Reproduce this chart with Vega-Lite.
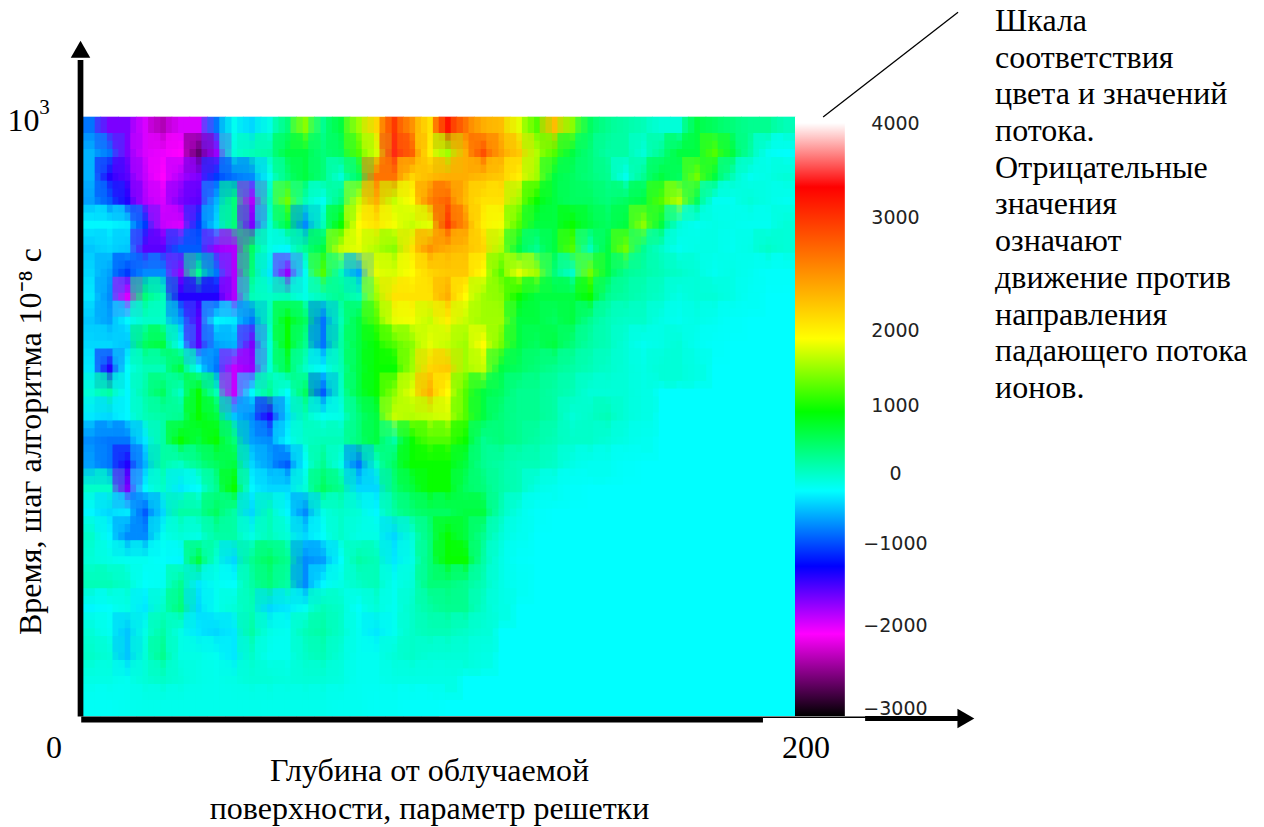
{"$schema":"https://vega.github.io/schema/vega-lite/v6.json","width":712,"height":599,"autosize":"none","padding":{"left":83,"top":117,"right":469,"bottom":111},"background":"#ffffff","view":{"fill":"#00ffff","stroke":null},"resolve":{"scale":{"y":"independent"},"axis":{"x":"independent","y":"independent"}},
"datasets":{"cells":[
{"x":2.5,"y":980,"v":-1000},{"x":7.5,"y":980,"v":-1500},{"x":12.5,"y":980,"v":-1500},{"x":17.5,"y":980,"v":-1900},{"x":22.5,"y":980,"v":-2500},{"x":27.5,"y":980,"v":-1900},{"x":32.5,"y":980,"v":-1900},{"x":37.5,"y":980,"v":-1000},{"x":42.5,"y":980,"v":-100},{"x":47.5,"y":980,"v":-500},{"x":52.5,"y":980,"v":0},{"x":57.5,"y":980,"v":600},{"x":62.5,"y":980,"v":1200},{"x":67.5,"y":980,"v":500},{"x":72.5,"y":980,"v":800},{"x":77.5,"y":980,"v":1300},{"x":82.5,"y":980,"v":2200},{"x":87.5,"y":980,"v":3200},{"x":92.5,"y":980,"v":2700},{"x":97.5,"y":980,"v":2100},{"x":102.5,"y":980,"v":3300},{"x":107.5,"y":980,"v":2900},{"x":112.5,"y":980,"v":2500},{"x":117.5,"y":980,"v":2400},{"x":122.5,"y":980,"v":1700},{"x":127.5,"y":980,"v":1000},{"x":132.5,"y":980,"v":2400},{"x":137.5,"y":980,"v":1200},{"x":142.5,"y":980,"v":700},{"x":147.5,"y":980,"v":500},{"x":152.5,"y":980,"v":400},{"x":157.5,"y":980,"v":300},{"x":162.5,"y":980,"v":100},{"x":167.5,"y":980,"v":100},{"x":172.5,"y":980,"v":800},{"x":177.5,"y":980,"v":700},{"x":182.5,"y":980,"v":600},{"x":187.5,"y":980,"v":500},{"x":192.5,"y":980,"v":500},{"x":197.5,"y":980,"v":300},
{"x":2.5,"y":940,"v":-700},{"x":7.5,"y":940,"v":-1000},{"x":12.5,"y":940,"v":-1500},{"x":17.5,"y":940,"v":-1900},{"x":22.5,"y":940,"v":-2000},{"x":27.5,"y":940,"v":-2100},{"x":32.5,"y":940,"v":-2900},{"x":37.5,"y":940,"v":-1600},{"x":42.5,"y":940,"v":100},{"x":47.5,"y":940,"v":300},{"x":52.5,"y":940,"v":400},{"x":57.5,"y":940,"v":800},{"x":62.5,"y":940,"v":800},{"x":67.5,"y":940,"v":600},{"x":72.5,"y":940,"v":700},{"x":77.5,"y":940,"v":1000},{"x":82.5,"y":940,"v":1600},{"x":87.5,"y":940,"v":3400},{"x":92.5,"y":940,"v":3000},{"x":97.5,"y":940,"v":2000},{"x":102.5,"y":940,"v":1300},{"x":107.5,"y":940,"v":2500},{"x":112.5,"y":940,"v":3100},{"x":117.5,"y":940,"v":2600},{"x":122.5,"y":940,"v":2300},{"x":127.5,"y":940,"v":1400},{"x":132.5,"y":940,"v":1000},{"x":137.5,"y":940,"v":800},{"x":142.5,"y":940,"v":600},{"x":147.5,"y":940,"v":400},{"x":152.5,"y":940,"v":400},{"x":157.5,"y":940,"v":100},{"x":162.5,"y":940,"v":500},{"x":167.5,"y":940,"v":800},{"x":172.5,"y":940,"v":800},{"x":177.5,"y":940,"v":1000},{"x":182.5,"y":940,"v":800},{"x":187.5,"y":940,"v":400},{"x":192.5,"y":940,"v":-100},{"x":197.5,"y":940,"v":-200},
{"x":2.5,"y":900,"v":-700},{"x":7.5,"y":900,"v":-1300},{"x":12.5,"y":900,"v":-1400},{"x":17.5,"y":900,"v":-1800},{"x":22.5,"y":900,"v":-2100},{"x":27.5,"y":900,"v":-1700},{"x":32.5,"y":900,"v":-1500},{"x":37.5,"y":900,"v":-1200},{"x":42.5,"y":900,"v":-1000},{"x":47.5,"y":900,"v":-900},{"x":52.5,"y":900,"v":-100},{"x":57.5,"y":900,"v":600},{"x":62.5,"y":900,"v":800},{"x":67.5,"y":900,"v":600},{"x":72.5,"y":900,"v":100},{"x":77.5,"y":900,"v":700},{"x":82.5,"y":900,"v":2900},{"x":87.5,"y":900,"v":2900},{"x":92.5,"y":900,"v":2200},{"x":97.5,"y":900,"v":2400},{"x":102.5,"y":900,"v":2500},{"x":107.5,"y":900,"v":2500},{"x":112.5,"y":900,"v":2400},{"x":117.5,"y":900,"v":2300},{"x":122.5,"y":900,"v":2000},{"x":127.5,"y":900,"v":1300},{"x":132.5,"y":900,"v":800},{"x":137.5,"y":900,"v":700},{"x":142.5,"y":900,"v":600},{"x":147.5,"y":900,"v":500},{"x":152.5,"y":900,"v":-50},{"x":157.5,"y":900,"v":500},{"x":162.5,"y":900,"v":800},{"x":167.5,"y":900,"v":700},{"x":172.5,"y":900,"v":1100},{"x":177.5,"y":900,"v":800},{"x":182.5,"y":900,"v":300},{"x":187.5,"y":900,"v":-100},{"x":192.5,"y":900,"v":0},{"x":197.5,"y":900,"v":100},
{"x":2.5,"y":860,"v":-800},{"x":7.5,"y":860,"v":-1100},{"x":12.5,"y":860,"v":-1300},{"x":17.5,"y":860,"v":-1700},{"x":22.5,"y":860,"v":-1900},{"x":27.5,"y":860,"v":-1500},{"x":32.5,"y":860,"v":-1400},{"x":37.5,"y":860,"v":-700},{"x":42.5,"y":860,"v":600},{"x":47.5,"y":860,"v":-1700},{"x":52.5,"y":860,"v":300},{"x":57.5,"y":860,"v":1100},{"x":62.5,"y":860,"v":300},{"x":67.5,"y":860,"v":-100},{"x":72.5,"y":860,"v":600},{"x":77.5,"y":860,"v":1500},{"x":82.5,"y":860,"v":2500},{"x":87.5,"y":860,"v":1500},{"x":92.5,"y":860,"v":1900},{"x":97.5,"y":860,"v":2800},{"x":102.5,"y":860,"v":3000},{"x":107.5,"y":860,"v":2400},{"x":112.5,"y":860,"v":2100},{"x":117.5,"y":860,"v":2100},{"x":122.5,"y":860,"v":1300},{"x":127.5,"y":860,"v":900},{"x":132.5,"y":860,"v":800},{"x":137.5,"y":860,"v":700},{"x":142.5,"y":860,"v":700},{"x":147.5,"y":860,"v":600},{"x":152.5,"y":860,"v":700},{"x":157.5,"y":860,"v":800},{"x":162.5,"y":860,"v":1000},{"x":167.5,"y":860,"v":1400},{"x":172.5,"y":860,"v":700},{"x":177.5,"y":860,"v":-100},{"x":182.5,"y":860,"v":-100},{"x":187.5,"y":860,"v":100},{"x":192.5,"y":860,"v":0},{"x":197.5,"y":860,"v":-100},
{"x":2.5,"y":820,"v":-300},{"x":7.5,"y":820,"v":-300},{"x":12.5,"y":820,"v":-400},{"x":17.5,"y":820,"v":-1200},{"x":22.5,"y":820,"v":-1800},{"x":27.5,"y":820,"v":-1900},{"x":32.5,"y":820,"v":-1200},{"x":37.5,"y":820,"v":-500},{"x":42.5,"y":820,"v":600},{"x":47.5,"y":820,"v":-1500},{"x":52.5,"y":820,"v":100},{"x":57.5,"y":820,"v":800},{"x":62.5,"y":820,"v":-900},{"x":67.5,"y":820,"v":300},{"x":72.5,"y":820,"v":900},{"x":77.5,"y":820,"v":1900},{"x":82.5,"y":820,"v":2100},{"x":87.5,"y":820,"v":1800},{"x":92.5,"y":820,"v":1500},{"x":97.5,"y":820,"v":1700},{"x":102.5,"y":820,"v":3200},{"x":107.5,"y":820,"v":2700},{"x":112.5,"y":820,"v":2000},{"x":117.5,"y":820,"v":1800},{"x":122.5,"y":820,"v":1000},{"x":127.5,"y":820,"v":800},{"x":132.5,"y":820,"v":800},{"x":137.5,"y":820,"v":900},{"x":142.5,"y":820,"v":800},{"x":147.5,"y":820,"v":700},{"x":152.5,"y":820,"v":800},{"x":157.5,"y":820,"v":1200},{"x":162.5,"y":820,"v":800},{"x":167.5,"y":820,"v":100},{"x":172.5,"y":820,"v":-100},{"x":177.5,"y":820,"v":0},{"x":182.5,"y":820,"v":-50},{"x":187.5,"y":820,"v":-100},{"x":192.5,"y":820,"v":-100},{"x":197.5,"y":820,"v":100},
{"x":2.5,"y":780,"v":-600},{"x":7.5,"y":780,"v":-500},{"x":12.5,"y":780,"v":-600},{"x":17.5,"y":780,"v":-1400},{"x":22.5,"y":780,"v":-1400},{"x":27.5,"y":780,"v":-1100},{"x":32.5,"y":780,"v":-1100},{"x":37.5,"y":780,"v":-1600},{"x":42.5,"y":780,"v":-1700},{"x":47.5,"y":780,"v":700},{"x":52.5,"y":780,"v":0},{"x":57.5,"y":780,"v":-300},{"x":62.5,"y":780,"v":500},{"x":67.5,"y":780,"v":800},{"x":72.5,"y":780,"v":1500},{"x":77.5,"y":780,"v":1700},{"x":82.5,"y":780,"v":1400},{"x":87.5,"y":780,"v":1200},{"x":92.5,"y":780,"v":2100},{"x":97.5,"y":780,"v":2700},{"x":102.5,"y":780,"v":2500},{"x":107.5,"y":780,"v":2400},{"x":112.5,"y":780,"v":2200},{"x":117.5,"y":780,"v":1400},{"x":122.5,"y":780,"v":800},{"x":127.5,"y":780,"v":500},{"x":132.5,"y":780,"v":800},{"x":137.5,"y":780,"v":1000},{"x":142.5,"y":780,"v":300},{"x":147.5,"y":780,"v":800},{"x":152.5,"y":780,"v":1100},{"x":157.5,"y":780,"v":500},{"x":162.5,"y":780,"v":200},{"x":167.5,"y":780,"v":-100},{"x":172.5,"y":780,"v":0},{"x":177.5,"y":780,"v":0},{"x":182.5,"y":780,"v":-100},{"x":187.5,"y":780,"v":0},{"x":192.5,"y":780,"v":200},{"x":197.5,"y":780,"v":100},
{"x":2.5,"y":740,"v":-500},{"x":7.5,"y":740,"v":-800},{"x":12.5,"y":740,"v":-1200},{"x":17.5,"y":740,"v":-900},{"x":22.5,"y":740,"v":-900},{"x":27.5,"y":740,"v":-1600},{"x":32.5,"y":740,"v":500},{"x":37.5,"y":740,"v":-1000},{"x":42.5,"y":740,"v":-1700},{"x":47.5,"y":740,"v":600},{"x":52.5,"y":740,"v":-400},{"x":57.5,"y":740,"v":-1600},{"x":62.5,"y":740,"v":-100},{"x":67.5,"y":740,"v":1000},{"x":72.5,"y":740,"v":300},{"x":77.5,"y":740,"v":-800},{"x":82.5,"y":740,"v":1700},{"x":87.5,"y":740,"v":1600},{"x":92.5,"y":740,"v":1900},{"x":97.5,"y":740,"v":2200},{"x":102.5,"y":740,"v":2300},{"x":107.5,"y":740,"v":2300},{"x":112.5,"y":740,"v":1900},{"x":117.5,"y":740,"v":1000},{"x":122.5,"y":740,"v":1700},{"x":127.5,"y":740,"v":1300},{"x":132.5,"y":740,"v":600},{"x":137.5,"y":740,"v":200},{"x":142.5,"y":740,"v":1100},{"x":147.5,"y":740,"v":800},{"x":152.5,"y":740,"v":500},{"x":157.5,"y":740,"v":400},{"x":162.5,"y":740,"v":300},{"x":167.5,"y":740,"v":200},{"x":172.5,"y":740,"v":100},{"x":177.5,"y":740,"v":-100},{"x":182.5,"y":740,"v":0},{"x":187.5,"y":740,"v":-100},{"x":192.5,"y":740,"v":-200},{"x":197.5,"y":740,"v":-200},
{"x":2.5,"y":700,"v":-400},{"x":7.5,"y":700,"v":-900},{"x":12.5,"y":700,"v":-1900},{"x":17.5,"y":700,"v":600},{"x":22.5,"y":700,"v":300},{"x":27.5,"y":700,"v":-1300},{"x":32.5,"y":700,"v":-1300},{"x":37.5,"y":700,"v":-1300},{"x":42.5,"y":700,"v":-1700},{"x":47.5,"y":700,"v":300},{"x":52.5,"y":700,"v":200},{"x":57.5,"y":700,"v":300},{"x":62.5,"y":700,"v":0},{"x":67.5,"y":700,"v":300},{"x":72.5,"y":700,"v":500},{"x":77.5,"y":700,"v":300},{"x":82.5,"y":700,"v":1300},{"x":87.5,"y":700,"v":2100},{"x":92.5,"y":700,"v":2100},{"x":97.5,"y":700,"v":2100},{"x":102.5,"y":700,"v":2500},{"x":107.5,"y":700,"v":1900},{"x":112.5,"y":700,"v":1300},{"x":117.5,"y":700,"v":1200},{"x":122.5,"y":700,"v":900},{"x":127.5,"y":700,"v":800},{"x":132.5,"y":700,"v":800},{"x":137.5,"y":700,"v":800},{"x":142.5,"y":700,"v":900},{"x":147.5,"y":700,"v":500},{"x":152.5,"y":700,"v":400},{"x":157.5,"y":700,"v":300},{"x":162.5,"y":700,"v":200},{"x":167.5,"y":700,"v":0},{"x":172.5,"y":700,"v":100},{"x":177.5,"y":700,"v":100},{"x":182.5,"y":700,"v":0},{"x":187.5,"y":700,"v":-150},
{"x":2.5,"y":660,"v":-600},{"x":7.5,"y":660,"v":-800},{"x":12.5,"y":660,"v":-300},{"x":17.5,"y":660,"v":200},{"x":22.5,"y":660,"v":200},{"x":27.5,"y":660,"v":-800},{"x":32.5,"y":660,"v":-1400},{"x":37.5,"y":660,"v":-300},{"x":42.5,"y":660,"v":-400},{"x":47.5,"y":660,"v":-1000},{"x":52.5,"y":660,"v":300},{"x":57.5,"y":660,"v":900},{"x":62.5,"y":660,"v":700},{"x":67.5,"y":660,"v":-1000},{"x":72.5,"y":660,"v":300},{"x":77.5,"y":660,"v":800},{"x":82.5,"y":660,"v":1000},{"x":87.5,"y":660,"v":1700},{"x":92.5,"y":660,"v":1800},{"x":97.5,"y":660,"v":1500},{"x":102.5,"y":660,"v":2000},{"x":107.5,"y":660,"v":1500},{"x":112.5,"y":660,"v":1300},{"x":117.5,"y":660,"v":1300},{"x":122.5,"y":660,"v":800},{"x":127.5,"y":660,"v":800},{"x":132.5,"y":660,"v":700},{"x":137.5,"y":660,"v":800},{"x":142.5,"y":660,"v":500},{"x":147.5,"y":660,"v":300},{"x":152.5,"y":660,"v":200},{"x":157.5,"y":660,"v":200},{"x":162.5,"y":660,"v":0},{"x":167.5,"y":660,"v":-100},{"x":172.5,"y":660,"v":0},{"x":177.5,"y":660,"v":-100},{"x":182.5,"y":660,"v":-200},
{"x":2.5,"y":620,"v":-500},{"x":7.5,"y":620,"v":-500},{"x":12.5,"y":620,"v":-600},{"x":17.5,"y":620,"v":700},{"x":22.5,"y":620,"v":800},{"x":27.5,"y":620,"v":-300},{"x":32.5,"y":620,"v":-1400},{"x":37.5,"y":620,"v":-800},{"x":42.5,"y":620,"v":-700},{"x":47.5,"y":620,"v":-1500},{"x":52.5,"y":620,"v":100},{"x":57.5,"y":620,"v":900},{"x":62.5,"y":620,"v":500},{"x":67.5,"y":620,"v":-1000},{"x":72.5,"y":620,"v":400},{"x":77.5,"y":620,"v":800},{"x":82.5,"y":620,"v":900},{"x":87.5,"y":620,"v":1000},{"x":92.5,"y":620,"v":1200},{"x":97.5,"y":620,"v":1700},{"x":102.5,"y":620,"v":1500},{"x":107.5,"y":620,"v":1300},{"x":112.5,"y":620,"v":1900},{"x":117.5,"y":620,"v":1100},{"x":122.5,"y":620,"v":800},{"x":127.5,"y":620,"v":700},{"x":132.5,"y":620,"v":800},{"x":137.5,"y":620,"v":600},{"x":142.5,"y":620,"v":400},{"x":147.5,"y":620,"v":300},{"x":152.5,"y":620,"v":100},{"x":157.5,"y":620,"v":-100},{"x":162.5,"y":620,"v":0},{"x":167.5,"y":620,"v":100},{"x":172.5,"y":620,"v":-100},{"x":177.5,"y":620,"v":-200},
{"x":2.5,"y":580,"v":-400},{"x":7.5,"y":580,"v":-1300},{"x":12.5,"y":580,"v":-200},{"x":17.5,"y":580,"v":300},{"x":22.5,"y":580,"v":300},{"x":27.5,"y":580,"v":800},{"x":32.5,"y":580,"v":-300},{"x":37.5,"y":580,"v":-1000},{"x":42.5,"y":580,"v":-1800},{"x":47.5,"y":580,"v":-1600},{"x":52.5,"y":580,"v":100},{"x":57.5,"y":580,"v":800},{"x":62.5,"y":580,"v":200},{"x":67.5,"y":580,"v":-300},{"x":72.5,"y":580,"v":300},{"x":77.5,"y":580,"v":800},{"x":82.5,"y":580,"v":900},{"x":87.5,"y":580,"v":900},{"x":92.5,"y":580,"v":1300},{"x":97.5,"y":580,"v":2200},{"x":102.5,"y":580,"v":2300},{"x":107.5,"y":580,"v":1300},{"x":112.5,"y":580,"v":1500},{"x":117.5,"y":580,"v":800},{"x":122.5,"y":580,"v":700},{"x":127.5,"y":580,"v":600},{"x":132.5,"y":580,"v":500},{"x":137.5,"y":580,"v":400},{"x":142.5,"y":580,"v":300},{"x":147.5,"y":580,"v":200},{"x":152.5,"y":580,"v":100},{"x":157.5,"y":580,"v":0},{"x":162.5,"y":580,"v":100},{"x":167.5,"y":580,"v":100},{"x":172.5,"y":580,"v":0},
{"x":2.5,"y":540,"v":100},{"x":7.5,"y":540,"v":400},{"x":12.5,"y":540,"v":-300},{"x":17.5,"y":540,"v":400},{"x":22.5,"y":540,"v":700},{"x":27.5,"y":540,"v":200},{"x":32.5,"y":540,"v":900},{"x":37.5,"y":540,"v":300},{"x":42.5,"y":540,"v":-1800},{"x":47.5,"y":540,"v":-300},{"x":52.5,"y":540,"v":500},{"x":57.5,"y":540,"v":-200},{"x":62.5,"y":540,"v":700},{"x":67.5,"y":540,"v":-1100},{"x":72.5,"y":540,"v":200},{"x":77.5,"y":540,"v":800},{"x":82.5,"y":540,"v":900},{"x":87.5,"y":540,"v":1200},{"x":92.5,"y":540,"v":1700},{"x":97.5,"y":540,"v":2500},{"x":102.5,"y":540,"v":1900},{"x":107.5,"y":540,"v":1000},{"x":112.5,"y":540,"v":800},{"x":117.5,"y":540,"v":700},{"x":122.5,"y":540,"v":500},{"x":127.5,"y":540,"v":500},{"x":132.5,"y":540,"v":400},{"x":137.5,"y":540,"v":300},{"x":142.5,"y":540,"v":100},{"x":147.5,"y":540,"v":100},{"x":152.5,"y":540,"v":100},{"x":157.5,"y":540,"v":0},
{"x":2.5,"y":500,"v":-400},{"x":7.5,"y":500,"v":-500},{"x":12.5,"y":500,"v":-300},{"x":17.5,"y":500,"v":300},{"x":22.5,"y":500,"v":400},{"x":27.5,"y":500,"v":500},{"x":32.5,"y":500,"v":900},{"x":37.5,"y":500,"v":800},{"x":42.5,"y":500,"v":-600},{"x":47.5,"y":500,"v":-900},{"x":52.5,"y":500,"v":-1300},{"x":57.5,"y":500,"v":-500},{"x":62.5,"y":500,"v":300},{"x":67.5,"y":500,"v":-100},{"x":72.5,"y":500,"v":0},{"x":77.5,"y":500,"v":600},{"x":82.5,"y":500,"v":800},{"x":87.5,"y":500,"v":1500},{"x":92.5,"y":500,"v":1400},{"x":97.5,"y":500,"v":1500},{"x":102.5,"y":500,"v":1600},{"x":107.5,"y":500,"v":1000},{"x":112.5,"y":500,"v":800},{"x":117.5,"y":500,"v":600},{"x":122.5,"y":500,"v":500},{"x":127.5,"y":500,"v":500},{"x":132.5,"y":500,"v":400},{"x":137.5,"y":500,"v":100},{"x":142.5,"y":500,"v":200},{"x":147.5,"y":500,"v":300},{"x":152.5,"y":500,"v":100},{"x":157.5,"y":500,"v":0},
{"x":2.5,"y":460,"v":-900},{"x":7.5,"y":460,"v":-1000},{"x":12.5,"y":460,"v":-1000},{"x":17.5,"y":460,"v":-400},{"x":22.5,"y":460,"v":400},{"x":27.5,"y":460,"v":900},{"x":32.5,"y":460,"v":800},{"x":37.5,"y":460,"v":900},{"x":42.5,"y":460,"v":600},{"x":47.5,"y":460,"v":-800},{"x":52.5,"y":460,"v":-900},{"x":57.5,"y":460,"v":-300},{"x":62.5,"y":460,"v":200},{"x":67.5,"y":460,"v":300},{"x":72.5,"y":460,"v":300},{"x":77.5,"y":460,"v":600},{"x":82.5,"y":460,"v":800},{"x":87.5,"y":460,"v":400},{"x":92.5,"y":460,"v":900},{"x":97.5,"y":460,"v":1000},{"x":102.5,"y":460,"v":1000},{"x":107.5,"y":460,"v":900},{"x":112.5,"y":460,"v":500},{"x":117.5,"y":460,"v":600},{"x":122.5,"y":460,"v":500},{"x":127.5,"y":460,"v":400},{"x":132.5,"y":460,"v":300},{"x":137.5,"y":460,"v":200},{"x":142.5,"y":460,"v":200},{"x":147.5,"y":460,"v":100},{"x":152.5,"y":460,"v":0},{"x":157.5,"y":460,"v":-100},
{"x":2.5,"y":420,"v":-800},{"x":7.5,"y":420,"v":-1000},{"x":12.5,"y":420,"v":-1300},{"x":17.5,"y":420,"v":-700},{"x":22.5,"y":420,"v":400},{"x":27.5,"y":420,"v":200},{"x":32.5,"y":420,"v":500},{"x":37.5,"y":420,"v":700},{"x":42.5,"y":420,"v":800},{"x":47.5,"y":420,"v":-500},{"x":52.5,"y":420,"v":-800},{"x":57.5,"y":420,"v":-1100},{"x":62.5,"y":420,"v":-200},{"x":67.5,"y":420,"v":500},{"x":72.5,"y":420,"v":0},{"x":77.5,"y":420,"v":-1000},{"x":82.5,"y":420,"v":200},{"x":87.5,"y":420,"v":700},{"x":92.5,"y":420,"v":900},{"x":97.5,"y":420,"v":900},{"x":102.5,"y":420,"v":900},{"x":107.5,"y":420,"v":800},{"x":112.5,"y":420,"v":500},{"x":117.5,"y":420,"v":400},{"x":122.5,"y":420,"v":300},{"x":127.5,"y":420,"v":300},{"x":132.5,"y":420,"v":200},{"x":137.5,"y":420,"v":0},{"x":142.5,"y":420,"v":-100},{"x":147.5,"y":420,"v":-100},{"x":152.5,"y":420,"v":-200},
{"x":2.5,"y":380,"v":200},{"x":7.5,"y":380,"v":200},{"x":12.5,"y":380,"v":-1500},{"x":17.5,"y":380,"v":-300},{"x":22.5,"y":380,"v":200},{"x":27.5,"y":380,"v":-400},{"x":32.5,"y":380,"v":-200},{"x":37.5,"y":380,"v":500},{"x":42.5,"y":380,"v":900},{"x":47.5,"y":380,"v":-300},{"x":52.5,"y":380,"v":-500},{"x":57.5,"y":380,"v":-500},{"x":62.5,"y":380,"v":100},{"x":67.5,"y":380,"v":700},{"x":72.5,"y":380,"v":500},{"x":77.5,"y":380,"v":-500},{"x":82.5,"y":380,"v":-500},{"x":87.5,"y":380,"v":600},{"x":92.5,"y":380,"v":800},{"x":97.5,"y":380,"v":900},{"x":102.5,"y":380,"v":900},{"x":107.5,"y":380,"v":700},{"x":112.5,"y":380,"v":600},{"x":117.5,"y":380,"v":400},{"x":122.5,"y":380,"v":300},{"x":127.5,"y":380,"v":0},{"x":132.5,"y":380,"v":-100},{"x":137.5,"y":380,"v":-200},
{"x":2.5,"y":340,"v":-300},{"x":7.5,"y":340,"v":-500},{"x":12.5,"y":340,"v":-400},{"x":17.5,"y":340,"v":-1100},{"x":22.5,"y":340,"v":-500},{"x":27.5,"y":340,"v":400},{"x":32.5,"y":340,"v":400},{"x":37.5,"y":340,"v":700},{"x":42.5,"y":340,"v":400},{"x":47.5,"y":340,"v":-500},{"x":52.5,"y":340,"v":300},{"x":57.5,"y":340,"v":-300},{"x":62.5,"y":340,"v":-900},{"x":67.5,"y":340,"v":0},{"x":72.5,"y":340,"v":200},{"x":77.5,"y":340,"v":100},{"x":82.5,"y":340,"v":-300},{"x":87.5,"y":340,"v":400},{"x":92.5,"y":340,"v":600},{"x":97.5,"y":340,"v":700},{"x":102.5,"y":340,"v":700},{"x":107.5,"y":340,"v":800},{"x":112.5,"y":340,"v":800},{"x":117.5,"y":340,"v":300},{"x":122.5,"y":340,"v":0},{"x":127.5,"y":340,"v":-200},
{"x":2.5,"y":300,"v":200},{"x":7.5,"y":300,"v":-300},{"x":12.5,"y":300,"v":-900},{"x":17.5,"y":300,"v":-900},{"x":22.5,"y":300,"v":-100},{"x":27.5,"y":300,"v":100},{"x":32.5,"y":300,"v":0},{"x":37.5,"y":300,"v":400},{"x":42.5,"y":300,"v":400},{"x":47.5,"y":300,"v":0},{"x":52.5,"y":300,"v":300},{"x":57.5,"y":300,"v":100},{"x":62.5,"y":300,"v":-500},{"x":67.5,"y":300,"v":-200},{"x":72.5,"y":300,"v":200},{"x":77.5,"y":300,"v":0},{"x":82.5,"y":300,"v":0},{"x":87.5,"y":300,"v":-500},{"x":92.5,"y":300,"v":100},{"x":97.5,"y":300,"v":600},{"x":102.5,"y":300,"v":900},{"x":107.5,"y":300,"v":800},{"x":112.5,"y":300,"v":500},{"x":117.5,"y":300,"v":100},{"x":122.5,"y":300,"v":-100},
{"x":2.5,"y":260,"v":100},{"x":7.5,"y":260,"v":0},{"x":12.5,"y":260,"v":-100},{"x":17.5,"y":260,"v":-100},{"x":22.5,"y":260,"v":-200},{"x":27.5,"y":260,"v":-300},{"x":32.5,"y":260,"v":800},{"x":37.5,"y":260,"v":100},{"x":42.5,"y":260,"v":-500},{"x":47.5,"y":260,"v":500},{"x":52.5,"y":260,"v":700},{"x":57.5,"y":260,"v":500},{"x":62.5,"y":260,"v":-900},{"x":67.5,"y":260,"v":-800},{"x":72.5,"y":260,"v":-200},{"x":77.5,"y":260,"v":400},{"x":82.5,"y":260,"v":300},{"x":87.5,"y":260,"v":-400},{"x":92.5,"y":260,"v":0},{"x":97.5,"y":260,"v":600},{"x":102.5,"y":260,"v":900},{"x":107.5,"y":260,"v":900},{"x":112.5,"y":260,"v":400},{"x":117.5,"y":260,"v":0},{"x":122.5,"y":260,"v":-200},
{"x":2.5,"y":220,"v":300},{"x":7.5,"y":220,"v":300},{"x":12.5,"y":220,"v":200},{"x":17.5,"y":220,"v":-200},{"x":22.5,"y":220,"v":-100},{"x":27.5,"y":220,"v":500},{"x":32.5,"y":220,"v":-400},{"x":37.5,"y":220,"v":-100},{"x":42.5,"y":220,"v":-200},{"x":47.5,"y":220,"v":400},{"x":52.5,"y":220,"v":600},{"x":57.5,"y":220,"v":400},{"x":62.5,"y":220,"v":-900},{"x":67.5,"y":220,"v":-300},{"x":72.5,"y":220,"v":0},{"x":77.5,"y":220,"v":200},{"x":82.5,"y":220,"v":300},{"x":87.5,"y":220,"v":-100},{"x":92.5,"y":220,"v":100},{"x":97.5,"y":220,"v":600},{"x":102.5,"y":220,"v":600},{"x":107.5,"y":220,"v":500},{"x":112.5,"y":220,"v":300},{"x":117.5,"y":220,"v":0},{"x":122.5,"y":220,"v":-150},
{"x":2.5,"y":180,"v":-300},{"x":7.5,"y":180,"v":-200},{"x":12.5,"y":180,"v":0},{"x":17.5,"y":180,"v":-400},{"x":22.5,"y":180,"v":200},{"x":27.5,"y":180,"v":600},{"x":32.5,"y":180,"v":-500},{"x":37.5,"y":180,"v":-100},{"x":42.5,"y":180,"v":100},{"x":47.5,"y":180,"v":300},{"x":52.5,"y":180,"v":-500},{"x":57.5,"y":180,"v":-400},{"x":62.5,"y":180,"v":-100},{"x":67.5,"y":180,"v":300},{"x":72.5,"y":180,"v":200},{"x":77.5,"y":180,"v":-200},{"x":82.5,"y":180,"v":100},{"x":87.5,"y":180,"v":-100},{"x":92.5,"y":180,"v":200},{"x":97.5,"y":180,"v":400},{"x":102.5,"y":180,"v":500},{"x":107.5,"y":180,"v":500},{"x":112.5,"y":180,"v":200},{"x":117.5,"y":180,"v":0},
{"x":2.5,"y":140,"v":100},{"x":7.5,"y":140,"v":-100},{"x":12.5,"y":140,"v":-600},{"x":17.5,"y":140,"v":0},{"x":22.5,"y":140,"v":400},{"x":27.5,"y":140,"v":0},{"x":32.5,"y":140,"v":-400},{"x":37.5,"y":140,"v":-500},{"x":42.5,"y":140,"v":-400},{"x":47.5,"y":140,"v":400},{"x":52.5,"y":140,"v":0},{"x":57.5,"y":140,"v":-100},{"x":62.5,"y":140,"v":300},{"x":67.5,"y":140,"v":400},{"x":72.5,"y":140,"v":200},{"x":77.5,"y":140,"v":-100},{"x":82.5,"y":140,"v":-400},{"x":87.5,"y":140,"v":-100},{"x":92.5,"y":140,"v":200},{"x":97.5,"y":140,"v":300},{"x":102.5,"y":140,"v":300},{"x":107.5,"y":140,"v":200},{"x":112.5,"y":140,"v":100},
{"x":2.5,"y":100,"v":200},{"x":7.5,"y":100,"v":100},{"x":12.5,"y":100,"v":-600},{"x":17.5,"y":100,"v":100},{"x":22.5,"y":100,"v":500},{"x":27.5,"y":100,"v":0},{"x":32.5,"y":100,"v":0},{"x":37.5,"y":100,"v":-100},{"x":42.5,"y":100,"v":-400},{"x":47.5,"y":100,"v":200},{"x":52.5,"y":100,"v":-100},{"x":57.5,"y":100,"v":-100},{"x":62.5,"y":100,"v":200},{"x":67.5,"y":100,"v":300},{"x":72.5,"y":100,"v":100},{"x":77.5,"y":100,"v":-100},{"x":82.5,"y":100,"v":-100},{"x":87.5,"y":100,"v":100},{"x":92.5,"y":100,"v":200},{"x":97.5,"y":100,"v":100},{"x":102.5,"y":100,"v":100},{"x":107.5,"y":100,"v":100},{"x":112.5,"y":100,"v":0},
{"x":2.5,"y":60,"v":0},{"x":7.5,"y":60,"v":0},{"x":12.5,"y":60,"v":-100},{"x":17.5,"y":60,"v":100},{"x":22.5,"y":60,"v":200},{"x":27.5,"y":60,"v":100},{"x":32.5,"y":60,"v":0},{"x":37.5,"y":60,"v":-50},{"x":42.5,"y":60,"v":0},{"x":47.5,"y":60,"v":100},{"x":52.5,"y":60,"v":100},{"x":57.5,"y":60,"v":50},{"x":62.5,"y":60,"v":100},{"x":67.5,"y":60,"v":100},{"x":72.5,"y":60,"v":50},{"x":77.5,"y":60,"v":-100},{"x":82.5,"y":60,"v":-100},{"x":87.5,"y":60,"v":0},{"x":92.5,"y":60,"v":0},{"x":97.5,"y":60,"v":0},{"x":102.5,"y":60,"v":0},
{"x":2.5,"y":20,"v":-150},{"x":7.5,"y":20,"v":-150},{"x":12.5,"y":20,"v":-100},{"x":17.5,"y":20,"v":-50},{"x":22.5,"y":20,"v":-50},{"x":27.5,"y":20,"v":-50},{"x":32.5,"y":20,"v":-50},{"x":37.5,"y":20,"v":-50},{"x":42.5,"y":20,"v":-50},{"x":47.5,"y":20,"v":-50},{"x":52.5,"y":20,"v":-50},{"x":57.5,"y":20,"v":-50},{"x":62.5,"y":20,"v":-50},{"x":67.5,"y":20,"v":-50},{"x":72.5,"y":20,"v":-100},{"x":77.5,"y":20,"v":-100},{"x":82.5,"y":20,"v":-150},{"x":87.5,"y":20,"v":-150},{"x":92.5,"y":20,"v":-200},{"x":97.5,"y":20,"v":-200}
]},
"layer":[
{"data":{"name":"cells"},
"mark":{"type":"rect","width":18.4,"height":24.6},
"encoding":{
"x":{"field":"x","type":"quantitative","scale":{"domain":[0,200]},"axis":{"values":[],"domain":false,"ticks":false,"grid":false,"labels":false,"title":["Глубина от облучаемой","поверхности, параметр решетки"],"titleFont":"Liberation Serif","titleFontSize":32,"titleFontWeight":"normal","titleColor":"#000000","titleLineHeight":38,"titleX":346,"titleY":54,"titleBaseline":"middle","titleAlign":"center"}},
"y":{"field":"y","type":"quantitative","scale":{"domain":[0,1000]},"axis":{"values":[1000],"labelExpr":"'10'","domain":false,"ticks":false,"grid":false,"labelFont":"Liberation Serif","labelFontSize":32,"labelColor":"#000000","labelPadding":44,"labelOffset":3,"title":"Время, шаг алгоритма 10⁻⁸ с","titleFont":"Liberation Serif","titleFontSize":32,"titleFontWeight":"normal","titleColor":"#000000","titleX":-53,"titleY":324,"titleAlign":"center","titleBaseline":"middle","titleAngle":-90}},
"color":{"field":"v","type":"quantitative","legend":null,"scale":{"domain":[-3036,-2108,-1280,-257,897,1880,3319,4030],"range":["#000000","#ff00ff","#0000ff","#00ffff","#00ff00","#ffff00","#ff0000","#ffffff"]}}
}},
{"data":{"name":"cells"},
"mark":{"type":"rect","width":30,"height":40,"opacity":0.5,"clip":true},
"encoding":{
"x":{"field":"x","type":"quantitative","scale":{"domain":[0,200]},"axis":null},
"y":{"field":"y","type":"quantitative","scale":{"domain":[0,1000]},"axis":null},
"color":{"field":"v","type":"quantitative","legend":null,"scale":{"domain":[-3036,-2108,-1280,-257,897,1880,3319,4030],"range":["#000000","#ff00ff","#0000ff","#00ffff","#00ff00","#ffff00","#ff0000","#ffffff"]}}
}},
{"data":{"values":[{"d0":200,"d1":214,"lo":-3100,"hi":4064}]},
"mark":{"type":"rect","fill":{"gradient":"linear","x1":0,"y1":0,"x2":0,"y2":1,"stops":[{"offset":0,"color":"#ffffff"},{"offset":0.01,"color":"#ffffff"},{"offset":0.117,"color":"#ff0000"},{"offset":0.37,"color":"#ffff00"},{"offset":0.492,"color":"#00ff00"},{"offset":0.624,"color":"#00ffff"},{"offset":0.75,"color":"#0000ff"},{"offset":0.863,"color":"#ff00ff"},{"offset":1,"color":"#000000"}]}},
"encoding":{
"x":{"field":"d0","type":"quantitative","scale":{"domain":[0,200]},"axis":null},"x2":{"field":"d1"},
"y":{"field":"lo","type":"quantitative","scale":{"domain":[-3100,-3000,-2000,-1000,0,1000,2000,3000,4000,4064],"range":[599,591,508,426,356,288,213,100,6,0]},"axis":{"orient":"right","values":[-3000,-2000,-1000,0,1000,2000,3000,4000],"domain":false,"ticks":false,"grid":false,"title":null,"format":"d","labelFont":"DejaVu Sans","labelFontSize":19,"labelColor":"#222222","labelAlign":"center","labelPadding":100}},"y2":{"field":"hi"}
}},
{"mark":{"type":"rule","color":"#000000","size":5.7},"data":{"values":[{"a":-0.7,"b0":-1,"b1":1095}]},"encoding":{"x":{"field":"a","type":"quantitative","scale":{"domain":[0,200]},"axis":null},"y":{"field":"b0","type":"quantitative","scale":{"domain":[0,1000]},"axis":null},"y2":{"field":"b1"}}},
{"mark":{"type":"rule","color":"#000000","size":6},"data":{"values":[{"a0":-0.5,"a1":191,"b":-6}]},"encoding":{"x":{"field":"a0","type":"quantitative","scale":{"domain":[0,200]},"axis":null},"x2":{"field":"a1"},"y":{"field":"b","type":"quantitative","scale":{"domain":[0,1000]},"axis":null}}},
{"mark":{"type":"rule","color":"#000000","size":1.5},"data":{"values":[{"a0":191,"a1":220,"b":-2}]},"encoding":{"x":{"field":"a0","type":"quantitative","scale":{"domain":[0,200]},"axis":null},"x2":{"field":"a1"},"y":{"field":"b","type":"quantitative","scale":{"domain":[0,1000]},"axis":null}}},
{"mark":{"type":"rule","color":"#000000","size":5},"data":{"values":[{"a0":219.7,"a1":246,"b":-4}]},"encoding":{"x":{"field":"a0","type":"quantitative","scale":{"domain":[0,200]},"axis":null},"x2":{"field":"a1"},"y":{"field":"b","type":"quantitative","scale":{"domain":[0,1000]},"axis":null}}},
{"mark":{"type":"point","shape":"triangle-up","filled":true,"color":"#000000","size":380,"opacity":1},"data":{"values":[{"a":-0.7,"b":1113}]},"encoding":{"x":{"field":"a","type":"quantitative","scale":{"domain":[0,200]},"axis":null},"y":{"field":"b","type":"quantitative","scale":{"domain":[0,1000]},"axis":null}}},
{"mark":{"type":"point","shape":"triangle-right","filled":true,"color":"#000000","size":380,"opacity":1},"data":{"values":[{"a":248,"b":-4}]},"encoding":{"x":{"field":"a","type":"quantitative","scale":{"domain":[0,200]},"axis":null},"y":{"field":"b","type":"quantitative","scale":{"domain":[0,1000]},"axis":null}}},
{"mark":{"type":"rule","color":"#000000","size":1.3},"data":{"values":[{"a0":207.9,"a1":245.8,"b0":1000,"b1":1175}]},"encoding":{"x":{"field":"a0","type":"quantitative","scale":{"domain":[0,200]},"axis":null},"x2":{"field":"a1"},"y":{"field":"b0","type":"quantitative","scale":{"domain":[0,1000]},"axis":null},"y2":{"field":"b1"}}},
{"mark":{"type":"text","font":"Liberation Serif","fontSize":32,"color":"#000000","align":"center","baseline":"middle","dx":-29},"data":{"values":[{"a":0,"b":-53,"t":"0"}]},"encoding":{"x":{"field":"a","type":"quantitative","scale":{"domain":[0,200]},"axis":null},"y":{"field":"b","type":"quantitative","scale":{"domain":[0,1000]},"axis":null},"text":{"field":"t"}}},
{"mark":{"type":"text","font":"Liberation Serif","fontSize":32,"color":"#000000","align":"center","baseline":"middle","dx":11},"data":{"values":[{"a":200,"b":-53,"t":"200"}]},"encoding":{"x":{"field":"a","type":"quantitative","scale":{"domain":[0,200]},"axis":null},"y":{"field":"b","type":"quantitative","scale":{"domain":[0,1000]},"axis":null},"text":{"field":"t"}}},
{"mark":{"type":"text","font":"Liberation Serif","fontSize":21,"color":"#000000","align":"center","baseline":"middle","dx":-38.5,"dy":-9},"data":{"values":[{"a":0,"b":1000,"t":"3"}]},"encoding":{"x":{"field":"a","type":"quantitative","scale":{"domain":[0,200]},"axis":null},"y":{"field":"b","type":"quantitative","scale":{"domain":[0,1000]},"axis":null},"text":{"field":"t"}}},
{"mark":{"type":"text","font":"Liberation Serif","fontSize":32,"color":"#000000","align":"left","baseline":"alphabetic","lineHeight":36.7,"text":["Шкала","соответствия","цвета и значений","потока.","Отрицательные","значения","означают","движение против","направления","падающего потока","ионов."]},"data":{"values":[{"a":256.2,"b":1143.6}]},"encoding":{"x":{"field":"a","type":"quantitative","scale":{"domain":[0,200]},"axis":null},"y":{"field":"b","type":"quantitative","scale":{"domain":[0,1000]},"axis":null}}}
]}
